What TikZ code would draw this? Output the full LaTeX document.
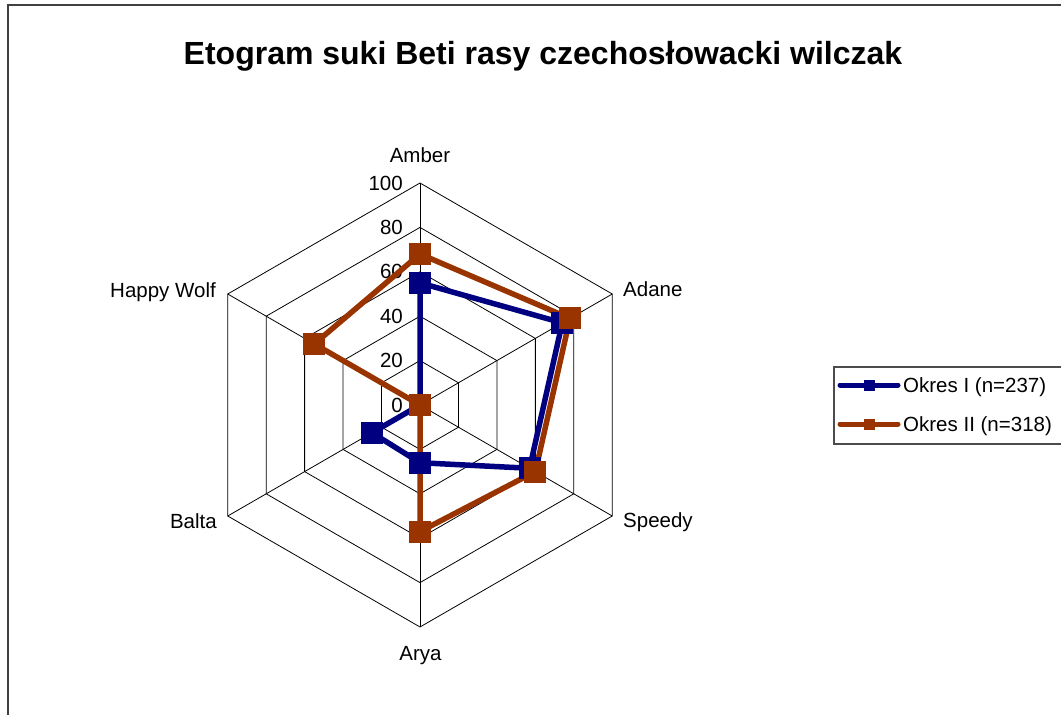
\documentclass[tikz,border=0pt]{standalone}
\usepackage{fontspec}
\setmainfont{Liberation Sans}
\definecolor{serA}{RGB}{0,0,128}
\definecolor{serB}{RGB}{153,51,0}
\begin{document}
\begin{tikzpicture}[x=1pt,y=-1pt,
  gridline/.style={draw=black,line width=0.8pt},
  serline/.style={line width=5.5pt,line join=miter},
  mk/.style={rectangle,minimum size=22pt,inner sep=0pt,draw=none},
  lgmk/.style={rectangle,minimum size=11pt,inner sep=0pt,draw=none},
  lab/.style={font=\fontsize{20.5}{24}\selectfont,inner sep=0pt},
  ticklab/.style={lab,anchor=east},
]
\useasboundingbox (0,0) rectangle (1061,715);
\begin{scope}
  \clip (0,0) rectangle (1061,715);
  \draw[draw=black!75,line width=1.4pt] (8,5) rectangle (1120,780);
\end{scope}
\node[font=\bfseries\fontsize{32}{38}\selectfont,anchor=base,inner sep=0pt] (title) at (543,64) {Etogram suki Beti rasy czechosłowacki wilczak};

\begin{scope}[shift={(420,405)},x=1pt,y=1pt]
  \coordinate (O) at (0,0);
  % rings
  \foreach \k in {20,40,60,80,100}{
    \draw[gridline] (90:\k*2.22) -- (30:\k*2.22) -- (-30:\k*2.22) -- (-90:\k*2.22) -- (-150:\k*2.22) -- (150:\k*2.22) -- cycle;
  }
  % axis vertices
  \coordinate (vAm) at (90:222);
  \coordinate (vAd) at (30:222);
  \coordinate (vSp) at (-30:222);
  \coordinate (vAr) at (-90:222);
  \coordinate (vBa) at (-150:222);
  \coordinate (vHw) at (150:222);
  \foreach \n in {Am,Ad,Sp,Ar,Ba,Hw} \draw[gridline] (O) -- (v\n);
  % tick labels
  \foreach \k in {0,20,40,60,80,100} \node[ticklab] (t\k) at (-17,\k*2.22) {\k};
  % data series I
  \coordinate (aAm) at (90:55*2.22);
  \coordinate (aAd) at (30:74*2.22);
  \coordinate (aSp) at (-30:57*2.22);
  \coordinate (aAr) at (-90:26*2.22);
  \coordinate (aBa) at (-150:25*2.22);
  \coordinate (aHw) at (O);
  % data series II
  \coordinate (bAm) at (90:68*2.22);
  \coordinate (bAd) at (30:78*2.22);
  \coordinate (bSp) at (-30:60*2.22);
  \coordinate (bAr) at (-90:57*2.22);
  \coordinate (bBa) at (O);
  \coordinate (bHw) at (150:55*2.22);
  \draw[serline,draw=serA] (aAm) -- (aAd) -- (aSp) -- (aAr) -- (aBa) -- (aHw) -- cycle;
  \draw[serline,draw=serB] (bAm) -- (bAd) -- (bSp) -- (bAr) -- (bBa) -- (bHw) -- cycle;
  \foreach \n in {Am,Ad,Sp,Ar,Ba,Hw} \node[mk,fill=serA] (ma\n) at (a\n) {};
  \foreach \n in {Am,Ad,Sp,Ar,Ba,Hw} \node[mk,fill=serB] (mb\n) at (b\n) {};
\end{scope}

% axis labels
\node[lab,anchor=base] (lAm) at (420,162) {Amber};
\node[lab,anchor=base west] (lAd) at (623,296) {Adane};
\node[lab,anchor=base west] (lSp) at (623,527) {Speedy};
\node[lab,anchor=base] (lAr) at (420.5,660) {Arya};
\node[lab,anchor=base east] (lBa) at (217,528) {Balta};
\node[lab,anchor=base east] (lHw) at (216,297) {Happy Wolf};

% legend
\begin{scope}
  \clip (0,0) rectangle (1061,715);
  \draw[draw=black!70,line width=1.3pt] (834,367) rectangle (1120,444);
\end{scope}
\coordinate (la1) at (840,385);
\coordinate (lb1) at (898,385);
\coordinate (la2) at (840,424);
\coordinate (lb2) at (898,424);
\draw[line width=5pt,line cap=round,draw=serA] (la1) -- (lb1);
\draw[line width=5pt,line cap=round,draw=serB] (la2) -- (lb2);
\node[lgmk,fill=serA] (lm1) at (869,385) {};
\node[lgmk,fill=serB] (lm2) at (869,424) {};
\node[lab,anchor=base west] (lt1) at (903,392) {Okres I (n=237)};
\node[lab,anchor=base west] (lt2) at (903,431) {Okres II (n=318)};
\end{tikzpicture}
\end{document}
